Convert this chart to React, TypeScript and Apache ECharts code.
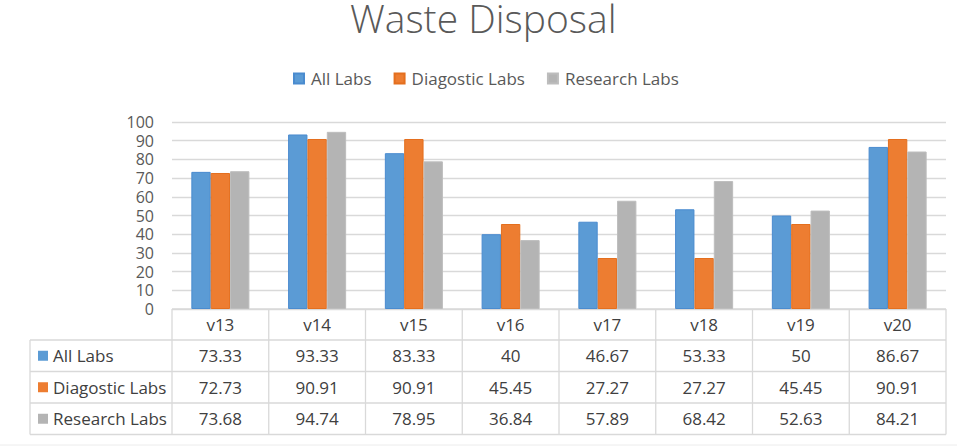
import React, { useEffect, useRef } from "react";
import * as echarts from "echarts";

const categories = ["v13", "v14", "v15", "v16", "v17", "v18", "v19", "v20"];
const allLabs = [73.33, 93.33, 83.33, 40, 46.67, 53.33, 50, 86.67];
const diagLabs = [72.73, 90.91, 90.91, 45.45, 27.27, 27.27, 45.45, 90.91];
const researchLabs = [73.68, 94.74, 78.95, 36.84, 57.89, 68.42, 52.63, 84.21];
const seriesNames = ["All Labs", "Diagostic Labs", "Research Labs"];
const seriesValues = [allLabs, diagLabs, researchLabs];
const colors = ["#5b9bd5", "#ed7d31", "#b4b4b4"];
const borders = ["#4a8bcf", "#e46f1e", "#bdbdbd"];

const W = 957;
const H = 447;
const FONT = "'Open Sans', 'Noto Sans', sans-serif";
const LINE = "#d9d9d9";
const TXT = "#404040";

export default function App() {
  const ref = useRef<HTMLDivElement>(null);
  useEffect(() => {
    document.body.style.margin = "0";
    const chart = echarts.init(ref.current!, null, { renderer: "svg" });
    const gridLeft = 172;
    const gridRight = 11;
    const gridTop = 122;
    const gridBottom = 138;
    chart.setOption({
      animation: false,
      textStyle: { fontFamily: FONT },
      title: {
        text: "Waste Disposal",
        left: 345,
        top: 1,
        padding: [0, 5, 0, 5],
        textStyle: { fontSize: 39, lineHeight: 32, fontWeight: 300, color: "#595959", fontFamily: FONT },
      },
      legend: {
        top: 65,
        left: 288,
        itemWidth: 10,
        itemHeight: 10,
        itemGap: 22,
        icon: "rect",
        textStyle: { fontSize: 17, color: "#595959", fontFamily: FONT, padding: [0, 0, 0, 2] },
        data: seriesNames,
      },
      grid: { left: gridLeft, right: gridRight, top: gridTop, bottom: gridBottom },
      xAxis: {
        type: "category",
        data: categories,
        axisLine: { show: false },
        axisTick: { show: false },
        axisLabel: { fontSize: 17, color: TXT, margin: 7, fontFamily: FONT },
      },
      yAxis: {
        type: "value",
        min: 0,
        max: 100,
        interval: 10,
        axisLine: { show: false },
        axisTick: { show: false },
        axisLabel: { fontSize: 16, lineHeight: 15, color: "#595959", margin: 18, fontFamily: FONT },
        splitLine: { lineStyle: { color: LINE, width: 1.3 } },
      },
      series: seriesNames.map((name, i) => ({
        name,
        type: "bar",
        data: seriesValues[i],
        barGap: "0%",
        barCategoryGap: "40%",
        itemStyle: { color: colors[i], borderColor: borders[i], borderWidth: 1 },
      })),
    });

    // Build data table beneath the plot from the axis' own pixel positions
    const p0 = chart.convertToPixel({ xAxisIndex: 0, yAxisIndex: 0 }, [0, 0]) as number[];
    const p1 = chart.convertToPixel({ xAxisIndex: 0, yAxisIndex: 0 }, [1, 0]) as number[];
    const colW = p1[0] - p0[0];
    const xStart = p0[0] - colW / 2;
    const xEnd = xStart + colW * categories.length;
    const tableTop = p0[1];
    const headerH = 31;
    const rowH = 31.5;
    const tableLeft = 30;
    const rowTops = seriesNames.map((_, r) => tableTop + headerH + r * rowH);
    const tableBottom = tableTop + headerH + seriesNames.length * rowH;
    const g: any[] = [];
    const ls = { stroke: LINE, lineWidth: 1.3 };
    g.push({ type: "line", shape: { x1: xStart, y1: tableTop, x2: xEnd, y2: tableTop }, style: ls });
    for (let r = 0; r <= seriesNames.length; r++) {
      const y = tableTop + headerH + r * rowH;
      g.push({ type: "line", shape: { x1: tableLeft, y1: y, x2: xEnd, y2: y }, style: ls });
    }
    g.push({ type: "line", shape: { x1: tableLeft, y1: tableTop + headerH, x2: tableLeft, y2: tableBottom }, style: ls });
    for (let c = 0; c <= categories.length; c++) {
      const x = xStart + c * colW;
      g.push({ type: "line", shape: { x1: x, y1: tableTop, x2: x, y2: tableBottom }, style: ls });
    }
    seriesNames.forEach((name, r) => {
      const cy = rowTops[r] + rowH / 2;
      g.push({ type: "rect", shape: { x: 38, y: cy - 5, width: 10, height: 10 }, style: { fill: colors[r] } });
      g.push({
        type: "text",
        x: 53,
        y: cy,
        style: { text: name, fontSize: 17, fill: TXT, fontFamily: FONT, verticalAlign: "middle", align: "left" },
      });
      seriesValues[r].forEach((v, c) => {
        const px = chart.convertToPixel({ xAxisIndex: 0 }, c) as number;
        g.push({
          type: "text",
          x: px,
          y: cy,
          style: { text: String(v), fontSize: 17, fill: TXT, fontFamily: FONT, verticalAlign: "middle", align: "center" },
        });
      });
    });
    g.push({ type: "line", shape: { x1: 0, y1: H - 2, x2: W, y2: H - 2 }, style: { stroke: "#ececec", lineWidth: 1 } });
    chart.setOption({ graphic: g });
    return () => chart.dispose();
  }, []);
  return <div ref={ref} style={{ width: W, height: H }} />;
}
